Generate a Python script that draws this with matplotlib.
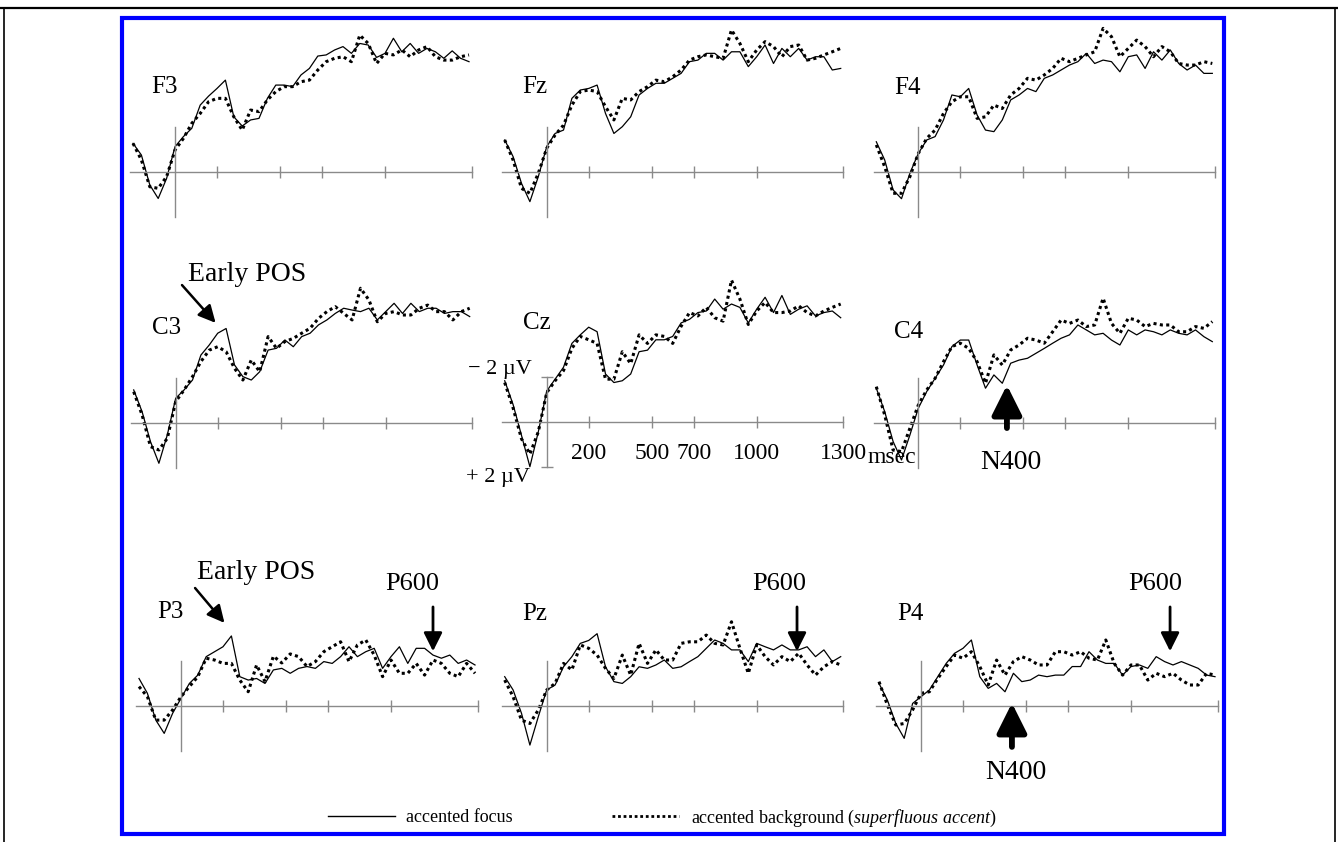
"""ERP grand averages at nine electrodes: accented focus vs accented background."""
import numpy as np
import matplotlib.pyplot as plt
from matplotlib.lines import Line2D
from matplotlib.patches import Rectangle

plt.rcParams['font.family'] = ['Liberation Serif', 'DejaVu Serif']
plt.rcParams['mathtext.fontset'] = 'custom'
plt.rcParams['mathtext.rm'] = 'Liberation Serif'
plt.rcParams['mathtext.it'] = 'Liberation Serif:italic'

# ---- data: amplitude in microvolts (negative plotted up), sampled every 40 ms
TIMES = np.arange(-200, 1401, 40)

F3_focus = [-1.26, -0.74, 0.59, 1.19, 0.30, -1.11, -1.56, -1.93, -2.96, -3.36, -3.70, -4.07, -2.44, -2.03,
            -2.30, -2.37, -3.26, -3.85, -3.85, -3.78, -4.30, -4.59, -5.14, -5.19, -5.41, -5.56, -5.26,
            -5.70, -5.63, -5.08, -5.26, -5.93, -5.33, -5.70, -5.26, -5.48, -5.33, -5.04, -5.37, -5.04, -4.89]
F3_background = [-1.26, -0.52, 0.67, 0.74, 0.22, -0.96, -1.48, -2.15, -2.59, -3.11, -3.26, -3.26, -2.44, -1.85,
                 -2.74, -2.67, -3.19, -3.56, -3.78, -3.78, -4.00, -4.07, -4.52, -4.89, -5.04, -5.11, -4.89,
                 -6.07, -5.70, -4.81, -5.26, -5.19, -5.41, -5.11, -5.41, -5.56, -5.11, -4.96, -4.96, -5.11, -5.19]
Fz_focus = [-1.41, -0.67, 0.52, 1.33, 0.22, -1.11, -1.70, -1.85, -3.26, -3.63, -3.70, -3.85, -2.59, -1.70,
            -2.00, -2.44, -3.41, -3.70, -3.93, -3.93, -4.15, -4.37, -4.89, -4.96, -5.26, -5.26, -4.96,
            -5.33, -5.33, -4.67, -5.11, -5.63, -4.81, -5.48, -5.11, -5.48, -4.96, -5.11, -5.11, -4.52, -4.59]
Fz_background = [-1.41, -0.52, 0.74, 0.96, 0.07, -1.04, -1.63, -2.07, -2.96, -3.56, -3.63, -3.56, -2.89, -2.30,
                 -3.26, -3.19, -3.56, -3.78, -4.07, -4.00, -4.22, -4.52, -4.96, -5.11, -5.19, -5.11, -5.04,
                 -6.30, -5.70, -4.89, -5.41, -5.78, -5.56, -5.11, -5.56, -5.63, -4.96, -5.04, -5.19, -5.33, -5.48]
F4_focus = [-1.33, -0.52, 0.81, 1.20, 0.07, -0.81, -1.41, -1.56, -2.30, -3.41, -3.33, -3.70, -2.52, -1.85,
            -1.78, -2.30, -3.19, -3.41, -3.70, -3.56, -4.15, -4.30, -4.52, -4.74, -4.89, -5.26, -4.81,
            -4.96, -4.89, -4.44, -5.11, -5.19, -4.59, -5.33, -4.96, -5.41, -4.81, -4.52, -4.74, -4.37, -4.37]
F4_background = [-1.19, -0.22, 0.96, 0.96, 0.22, -0.81, -1.48, -1.85, -2.59, -3.11, -3.33, -3.33, -2.37, -2.44,
                 -2.96, -2.81, -3.41, -3.70, -4.15, -4.07, -4.30, -4.59, -5.04, -4.89, -5.04, -5.19, -5.33,
                 -6.37, -6.00, -5.11, -5.48, -5.85, -5.56, -5.11, -5.56, -5.33, -4.81, -4.74, -4.74, -4.89, -4.81]
C3_focus = [-1.47, -0.50, 0.83, 1.79, 0.53, -1.10, -1.47, -1.91, -3.02, -3.47, -3.99, -4.20, -2.58, -2.06,
            -1.91, -2.28, -3.24, -3.32, -3.69, -3.39, -3.84, -3.99, -4.36, -4.58, -4.87, -5.10, -5.02,
            -4.95, -5.10, -4.58, -4.95, -5.32, -4.87, -5.32, -4.95, -5.10, -5.10, -4.87, -4.95, -4.95, -4.73]
C3_background = [-1.39, -0.36, 1.05, 1.20, 0.68, -0.95, -1.47, -2.06, -2.73, -3.24, -3.39, -3.17, -2.43, -1.91,
                 -2.80, -2.28, -3.84, -3.32, -3.62, -3.76, -3.99, -4.21, -4.65, -4.95, -5.17, -4.87, -4.58,
                 -5.99, -5.47, -4.50, -4.87, -4.95, -4.80, -4.80, -5.10, -5.24, -4.95, -4.95, -4.58, -4.95, -5.10]
Cz_focus = [-1.82, -0.76, 0.61, 2.00, 0.45, -1.36, -1.89, -2.42, -3.48, -3.86, -4.20, -4.00, -2.12, -1.74,
            -1.82, -2.12, -3.11, -3.18, -3.64, -3.64, -3.79, -4.39, -4.55, -4.85, -4.92, -5.45, -5.00,
            -5.23, -5.08, -4.39, -5.00, -5.53, -4.85, -5.61, -4.77, -5.00, -5.15, -4.70, -4.85, -4.92, -4.62]
Cz_background = [-1.74, -0.61, 0.76, 1.44, 0.45, -1.29, -1.82, -2.27, -3.26, -3.79, -3.64, -3.48, -1.89, -1.89,
                 -3.11, -2.58, -3.86, -3.48, -3.86, -3.79, -3.48, -4.24, -4.85, -4.70, -5.08, -4.62, -4.47,
                 -6.29, -5.45, -4.32, -4.92, -5.30, -4.85, -4.85, -4.92, -5.15, -4.85, -4.70, -4.92, -5.08, -5.23]
C4_focus = [-1.56, -0.52, 0.81, 1.63, 0.52, -0.67, -1.41, -2.00, -2.59, -3.41, -3.70, -3.70, -2.59, -1.56,
            -2.15, -1.78, -2.67, -2.81, -2.89, -3.11, -3.33, -3.56, -3.78, -3.93, -4.37, -4.15, -3.93,
            -4.00, -3.70, -3.48, -4.15, -3.93, -4.15, -4.07, -3.93, -4.15, -4.00, -3.93, -4.15, -3.85, -3.63]
C4_background = [-1.63, -0.37, 1.19, 1.26, 0.22, -0.81, -1.48, -2.00, -2.74, -3.41, -3.56, -3.33, -2.74, -1.78,
                 -3.04, -2.59, -3.26, -3.48, -3.78, -3.70, -3.56, -4.07, -4.59, -4.44, -4.59, -4.30, -4.37,
                 -5.56, -4.44, -4.00, -4.67, -4.59, -4.30, -4.44, -4.37, -4.37, -4.07, -4.07, -4.30, -4.22, -4.52]
P3_focus = [-1.21, -0.55, 0.64, 1.23, 0.34, -0.33, -0.99, -1.36, -2.18, -2.40, -2.62, -3.10, -1.29, -1.14,
            -1.21, -0.99, -1.59, -1.66, -1.44, -1.66, -1.74, -1.66, -1.96, -1.88, -2.18, -2.62, -2.18,
            -2.40, -2.55, -1.66, -2.18, -2.62, -1.88, -2.55, -2.55, -2.25, -2.11, -2.25, -1.88, -2.03, -1.81]
P3_background = [-0.85, -0.40, 0.64, 0.64, 0.19, -0.40, -0.85, -1.29, -2.11, -2.03, -1.88, -1.88, -1.14, -0.62,
                 -1.81, -1.07, -2.20, -1.90, -2.30, -2.18, -1.74, -1.96, -2.40, -2.62, -2.84, -1.96, -2.70,
                 -2.92, -2.25, -1.29, -2.03, -1.44, -1.44, -1.88, -1.36, -2.03, -1.88, -1.44, -1.29, -1.88, -1.44]
Pz_focus = [-1.29, -0.70, 0.34, 1.75, 0.49, -0.70, -0.92, -1.73, -2.18, -2.77, -2.90, -3.20, -1.73, -1.07,
            -0.99, -1.29, -1.73, -1.66, -1.81, -2.03, -1.66, -1.73, -1.96, -2.18, -2.55, -2.92, -2.77,
            -2.48, -2.48, -1.96, -2.77, -2.62, -2.48, -2.70, -2.48, -2.48, -2.62, -2.18, -2.48, -1.96, -2.18]
Pz_background = [-1.14, -0.40, 0.64, 0.79, 0.19, -0.70, -0.99, -1.88, -1.59, -2.70, -2.55, -2.25, -1.66, -1.21,
                 -2.25, -1.36, -2.77, -1.88, -2.48, -2.03, -2.03, -2.77, -2.84, -2.84, -3.14, -2.77, -2.70,
                 -3.73, -2.55, -1.44, -2.70, -2.18, -1.81, -2.18, -1.96, -2.33, -1.81, -1.36, -1.73, -1.96, -1.81]
P4_focus = [-0.99, -0.25, 0.79, 1.45, -0.10, -0.40, -0.70, -1.29, -1.88, -2.33, -2.55, -2.92, -1.29, -0.77,
            -0.99, -0.62, -1.44, -1.07, -1.14, -1.36, -1.29, -1.36, -1.36, -1.74, -1.74, -2.40, -2.03,
            -1.88, -1.88, -1.36, -1.74, -1.81, -1.66, -2.18, -1.96, -1.81, -1.96, -1.81, -1.66, -1.36, -1.29]
P4_background = [-1.07, -0.03, 0.86, 0.79, 0.19, -0.55, -0.62, -1.21, -1.74, -2.25, -2.11, -2.40, -1.74, -0.92,
                 -2.03, -1.36, -1.96, -2.18, -2.03, -1.81, -1.81, -2.40, -2.40, -2.25, -2.40, -2.11, -2.03,
                 -2.92, -1.88, -1.36, -1.81, -1.81, -1.14, -1.44, -1.29, -1.44, -1.14, -0.92, -0.92, -1.44, -1.36]

ELECTRODES = ["F3", "Fz", "F4", "C3", "Cz", "C4", "P3", "Pz", "P4"]
SERIES = {
    "F3": (F3_focus, F3_background), "Fz": (Fz_focus, Fz_background), "F4": (F4_focus, F4_background),
    "C3": (C3_focus, C3_background), "Cz": (Cz_focus, Cz_background), "C4": (C4_focus, C4_background),
    "P3": (P3_focus, P3_background), "Pz": (Pz_focus, Pz_background), "P4": (P4_focus, P4_background),
}
TICK_MS = [200, 500, 700, 1000, 1412]
TICK_LABELS = ["200", "500", "700", "1000", "1300"]
LEGEND_LABELS = ["accented focus", r"accented background ($\mathit{superfluous\ accent}$)"]

# ---- layout (pixels in the 1338x842 output)
W, H = 1338, 842
PX_PER_MS, PX_PER_UV = 0.21, 22.5
XLIM, YLIM = (-240, 1560), (3.6, -7.0)
AXIS_SPAN = (-213, 1412)
# stimulus-onset x and baseline y of each panel
ORIGIN = {
    "F3": (175, 171.7), "Fz": (546.7, 171.7), "F4": (918.3, 171.7),
    "C3": (175.7, 423), "Cz": (546.7, 421.7), "C4": (918.3, 423.3),
    "P3": (181, 705.7), "Pz": (546.7, 705.7), "P4": (921, 705.7),
}
NAME_Y = {"F3": -3.76, "Fz": -3.76, "F4": -3.72, "C3": -4.22, "Cz": -4.39,
          "C4": -4.06, "P3": -4.16, "Pz": -4.08, "P4": -4.08}
GRAY = "#8a8a8a"

fig = plt.figure(figsize=(W / 100, H / 100), dpi=100)


def panel_axes(name):
    x0, y0 = ORIGIN[name]
    left = x0 + XLIM[0] * PX_PER_MS
    top = y0 + YLIM[1] * PX_PER_UV
    width = (XLIM[1] - XLIM[0]) * PX_PER_MS
    height = (YLIM[0] - YLIM[1]) * PX_PER_UV
    ax = fig.add_axes([left / W, 1 - (top + height) / H, width / W, height / H])
    ax.set_xlim(*XLIM)
    ax.set_ylim(*YLIM)
    ax.patch.set_visible(False)
    for side in ("top", "right"):
        ax.spines[side].set_visible(False)
    ax.spines["bottom"].set_position(("data", 0))
    ax.spines["bottom"].set_bounds(*AXIS_SPAN)
    ax.spines["left"].set_position(("data", 0))
    ax.spines["left"].set_bounds(-2, 2)
    for side in ("bottom", "left"):
        ax.spines[side].set_color(GRAY)
        ax.spines[side].set_linewidth(1.0)
    ax.set_xticks(TICK_MS)
    ax.tick_params(axis="x", direction="inout", length=9, width=1, color=GRAY,
                   labelsize=17, pad=11, labelbottom=False)
    if name == "Cz":
        ax.set_xticklabels(TICK_LABELS)
        ax.tick_params(axis="x", labelbottom=True)
        ax.set_yticks([-2, 2])
        ax.set_yticklabels([])
        ax.tick_params(axis="y", direction="inout", length=8, width=1, color=GRAY)
        ax.text(1530, 1.85, "msec", fontsize=17, ha="left", va="baseline")
        ax.text(-70, -2.3, "\u2212 2 \u00b5V", fontsize=16, ha="right", va="center")
        ax.text(-80, 2.46, "+ 2 \u00b5V", fontsize=16, ha="right", va="center")
    else:
        ax.set_yticks([])
    return ax


def arrow(ax, tail, tip, lw, head):
    ax.annotate("", xy=tip, xytext=tail, annotation_clip=False,
                arrowprops=dict(arrowstyle=f"-|>,head_length={0.4 * head},head_width={0.2 * head}",
                                color="black", lw=lw, shrinkA=0, shrinkB=0, mutation_scale=1))


axes = {}
for name in ELECTRODES:
    ax = panel_axes(name)
    focus, background = SERIES[name]
    ax.plot(TIMES, focus, color="black", lw=0.9, clip_on=False)
    ax.plot(TIMES, background, color="black", lw=2.2, linestyle=(0, (1, 1.1)), clip_on=False)
    ax.text(-115, NAME_Y[name], name, fontsize=18, ha="left", va="center")
    axes[name] = ax

# annotations
for name, txt_xy, tail, tip in [("C3", (340, -6.58), (30, -6.13), (190, -4.45)),
                                ("P3", (357, -5.9), (67, -5.23), (207, -3.68))]:
    axes[name].text(*txt_xy, "Early POS", fontsize=20, ha="center", va="center")
    arrow(axes[name], tail, tip, lw=1.8, head=26)

for name, tx, ax_t in [("P3", 1100, 1200), ("Pz", 1106, 1192), ("P4", 1114, 1186)]:
    axes[name].text(tx, -5.4, "P600", fontsize=19, ha="center", va="center")
    arrow(axes[name], (ax_t, -4.39), (ax_t, -2.42), lw=2.0, head=28)

for name, ax_t, tail_v, tip_v, label_v in [("C4", 422, 0.21, -1.70, 1.75),
                                           ("P4", 433, 1.83, -0.12, 2.95)]:
    arrow(axes[name], (ax_t, tail_v), (ax_t, tip_v), lw=4.2, head=45)
    axes[name].text(ax_t + 20, label_v, "N400", fontsize=20, ha="center", va="center")

# legend
handles = [Line2D([], [], color="black", lw=1.0),
           Line2D([], [], color="black", lw=2.0, linestyle=(0, (1, 1)))]
fig.legend(handles, LEGEND_LABELS, ncol=2, frameon=False, fontsize=13, loc="center",
           bbox_to_anchor=(662 / W, 1 - 818 / H), handlelength=3.7, handletextpad=0.65,
           columnspacing=5.5)

# frames
fig.add_artist(Rectangle((122 / W, 1 - 834 / H), (1224 - 122) / W, (834 - 18) / H,
                         transform=fig.transFigure, fill=False, edgecolor="#0000ff", lw=3))
fig.add_artist(Line2D([0, 1], [1 - 8 / H, 1 - 8 / H], transform=fig.transFigure, color="black", lw=1.6))
fig.add_artist(Line2D([4 / W, 4 / W], [0, 1 - 8 / H], transform=fig.transFigure, color="black", lw=1.2))
fig.add_artist(Line2D([1335 / W, 1335 / W], [0, 1 - 8 / H], transform=fig.transFigure, color="black", lw=1.2))

fig.savefig("out.png", dpi=100)
